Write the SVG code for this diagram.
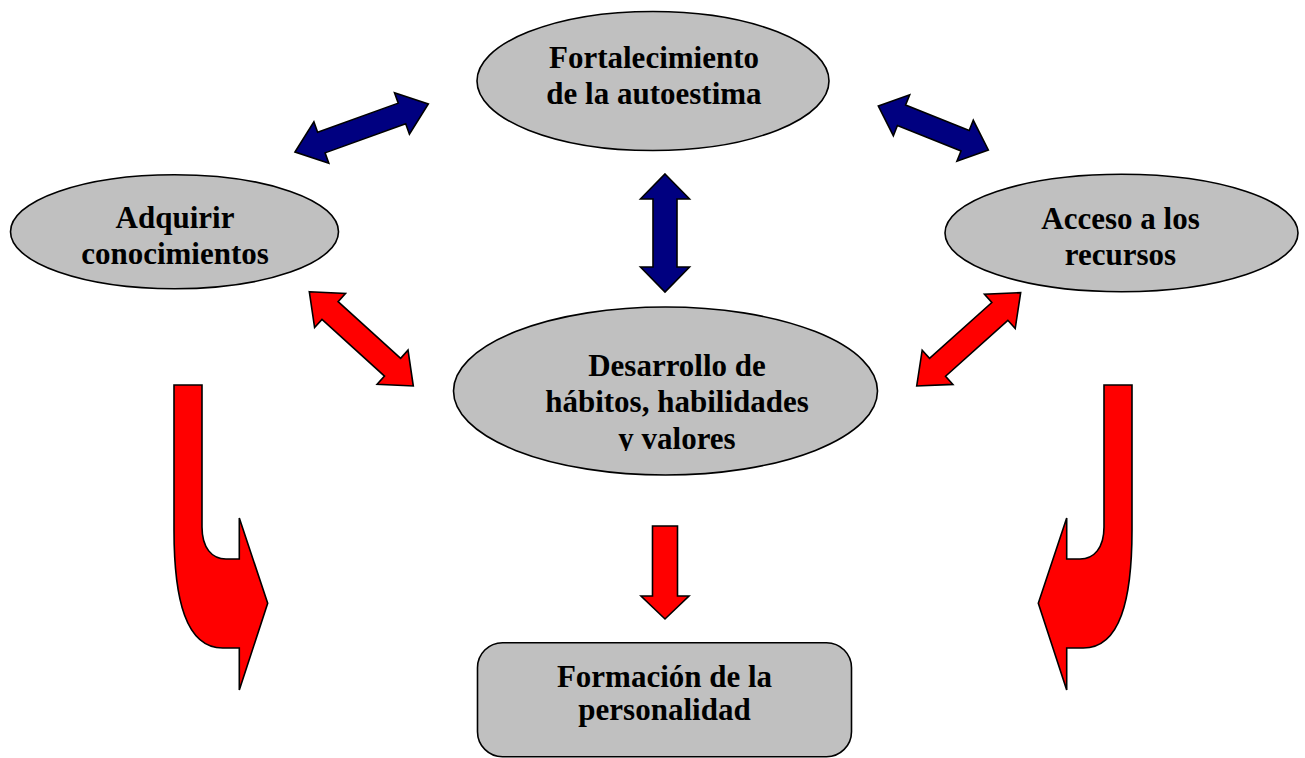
<svg xmlns="http://www.w3.org/2000/svg" width="1305" height="758" viewBox="0 0 1305 758">
<style>
.node{fill:#C0C0C0;stroke:#000;stroke-width:1.6}
.lbl{font-family:"Liberation Serif","Times New Roman",serif;font-weight:bold;font-size:31px;fill:#000;text-anchor:middle}
.blue{fill:#000080;stroke:#000;stroke-width:1.6;stroke-linejoin:miter}
.red{fill:#FF0000;stroke:#000;stroke-width:1.6;stroke-linejoin:miter}
</style>
<defs>
<clipPath id="clipC"><rect x="440" y="300" width="460" height="151"/></clipPath>
</defs>
<rect width="1305" height="758" fill="#fff"/>
<g id="connectors">
<polygon class="blue" transform="translate(295,152) rotate(-19.8)" points="0,0 28,-22 28,-11 113.7,-11 113.7,-22 141.7,0 113.7,22 113.7,11 28,11 28,22"/>
<polygon class="blue" transform="translate(878.3,106) rotate(21.8)" points="0,0 25,-22 25,-11 93.5,-11 93.5,-22 118.5,0 93.5,22 93.5,11 25,11 25,22"/>
<polygon class="blue" points="665,174 689.5,199 677,199 677,267 689.5,267 665,292 640.5,267 653,267 653,199 640.5,199"/>
<polygon class="red" transform="translate(309.3,291.7) rotate(42.2)" points="0,0 28,-23 28,-12 112.4,-12 112.4,-23 140.4,0 112.4,23 112.4,12 28,12 28,23"/>
<polygon class="red" transform="translate(916.7,386) rotate(-41.9)" points="0,0 28,-23 28,-12 111.7,-12 111.7,-23 139.7,0 111.7,23 111.7,12 28,12 28,23"/>
<polygon class="red" points="652.5,526 677.5,526 677.5,596 689,596 665,619 641,596 652.5,596"/>
<path class="red" d="M202,385 L174,385 L174,530 C174,600 186,648 222.7,648 L239.3,648 L239.3,690 L267.7,603.3 L239.3,518 L239.3,559 L226,559 C212,559 202,548 202,527 Z"/>
<path class="red" d="M1104,385 L1132,385 L1132,530 C1132,600 1120,648 1083.3,648 L1066.7,648 L1066.7,690 L1038.3,603.3 L1066.7,518 L1066.7,559 L1080,559 C1094,559 1104,548 1104,527 Z"/>
</g>
<g id="node-autoestima">
<ellipse class="node" cx="653" cy="81" rx="176" ry="69.5"/>
<text class="lbl" x="654" y="68">Fortalecimiento</text>
<text class="lbl" x="654" y="104">de la autoestima</text>
</g>
<g id="node-conocimientos">
<ellipse class="node" cx="174.5" cy="231.7" rx="164" ry="57"/>
<text class="lbl" x="175" y="228">Adquirir</text>
<text class="lbl" x="175" y="264">conocimientos</text>
</g>
<g id="node-recursos">
<ellipse class="node" cx="1121.5" cy="233" rx="176.5" ry="58.7"/>
<text class="lbl" x="1120.5" y="229">Acceso a los</text>
<text class="lbl" x="1120.5" y="265">recursos</text>
</g>
<g id="node-desarrollo">
<ellipse class="node" cx="665.5" cy="391" rx="212" ry="84"/>
<text class="lbl" x="677" y="376">Desarrollo de</text>
<text class="lbl" x="677" y="412">hábitos, habilidades</text>
<text class="lbl" x="677" y="449" clip-path="url(#clipC)">y valores</text>
</g>
<g id="node-personalidad">
<rect class="node" x="477.5" y="642.7" width="374" height="114" rx="25" ry="25"/>
<text class="lbl" x="664.5" y="687">Formación de la</text>
<text class="lbl" x="664.5" y="720">personalidad</text>
</g>
</svg>
